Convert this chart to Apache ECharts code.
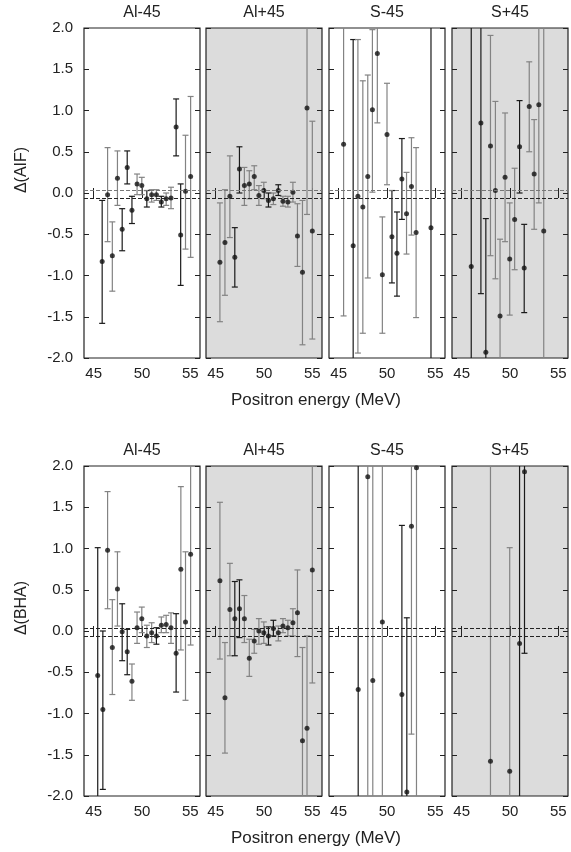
<!DOCTYPE html>
<html>
<head>
<meta charset="utf-8">
<script src="https://cdn.jsdelivr.net/npm/echarts@6/dist/echarts.min.js"></script>
<style>
html,body{margin:0;padding:0;background:#fff}
#chart{width:571px;height:852px}
</style>
</head>
<body>
<div id="chart"></div>
<script>
// column titles, row names, x ticks, reference (dashed) lines
const panelTitles = ['Al-45', 'Al+45', 'S-45', 'S+45'];
const rowNames = ['Δ(AIF)', 'Δ(BHA)'];
const xTicks = [45, 50, 55];
const refLines = [0.025, -0.055];

// grp: 'k' = dark set, 'g' = grey set
// --- Δ(AIF), Al-45
const aifAlmX = [45.88, 46.44, 46.93, 47.46, 47.95, 48.47, 48.96, 49.49, 49.98, 50.5, 51.0, 51.49, 52.0, 52.5, 53.0, 53.53, 54.0, 54.5, 55.03];
const aifAlmY = [-0.83, -0.02, -0.76, 0.18, -0.44, 0.31, -0.21, 0.11, 0.09, -0.07, -0.02, -0.02, -0.11, -0.07, -0.06, 0.80, -0.51, 0.02, 0.20];
const aifAlmHi = [-0.09, 0.55, -0.35, 0.51, -0.19, 0.51, -0.04, 0.23, 0.19, 0.03, 0.04, 0.04, -0.04, 0.00, 0.07, 1.14, 0.11, 0.70, 1.17];
const aifAlmLo = [-1.58, -0.59, -1.19, -0.15, -0.70, 0.11, -0.37, -0.02, -0.02, -0.17, -0.11, -0.09, -0.17, -0.15, -0.19, 0.45, -1.12, -0.68, -0.78];
const aifAlmGrp = ['k','g','g','g','k','k','k','g','g','k','g','g','k','g','g','k','k','g','g'];

// --- Δ(AIF), Al+45
const aifAlpX = [45.44, 45.96, 46.47, 46.98, 47.46, 47.97, 48.48, 48.99, 49.47, 49.98, 50.46, 50.97, 51.48, 51.96, 52.47, 52.99, 53.46, 53.98, 54.45, 55.0];
const aifAlpY = [-0.84, -0.60, -0.04, -0.78, 0.29, 0.09, 0.11, 0.20, -0.03, 0.03, -0.09, -0.07, 0.03, -0.10, -0.11, 0.01, -0.52, -0.96, 1.03, -0.46];
const aifAlpHi = [-0.12, 0.04, 0.45, -0.42, 0.56, 0.31, 0.27, 0.33, 0.09, 0.13, 0.00, 0.00, 0.10, -0.04, -0.04, 0.13, -0.13, -0.09, 2.6, 0.87];
const aifAlpLo = [-1.56, -1.24, -0.54, -1.14, 0.00, -0.15, -0.07, 0.04, -0.15, -0.07, -0.17, -0.14, -0.03, -0.16, -0.17, -0.11, -0.89, -1.84, -0.26, -1.77];
const aifAlpGrp = ['g','g','g','k','k','g','g','g','g','g','k','g','k','g','g','g','g','g','g','g'];

// --- Δ(AIF), S-45
const aifSmX = [45.51, 46.5, 46.99, 47.5, 48.01, 48.49, 49.0, 49.52, 50.0, 50.51, 51.03, 51.54, 52.02, 52.53, 53.01, 54.55];
const aifSmY = [0.59, -0.64, -0.04, -0.17, 0.20, 1.01, 1.69, -0.99, 0.71, -0.53, -0.73, 0.17, -0.25, 0.08, -0.48, -0.42];
const aifSmHi = [2.8, 1.86, 1.86, 1.36, 1.43, 1.98, 2.6, -0.29, 1.33, 0.03, -0.23, 0.66, 0.25, 0.67, 0.55, 2.9];
const aifSmLo = [-1.49, -2.9, -1.94, -1.70, -1.03, 0.01, 0.85, -1.70, 0.10, -1.09, -1.25, -0.32, -0.74, -0.51, -1.51, -3.7];
const aifSmGrp = ['g','k','g','g','g','g','g','g','g','k','k','k','g','g','g','k'];

// --- Δ(AIF), S+45
const aifSpX = [45.99, 46.99, 47.5, 47.98, 48.49, 48.97, 49.49, 49.97, 50.48, 50.99, 51.47, 51.99, 52.5, 52.98, 53.49];
const aifSpY = [-0.89, 0.85, -1.93, 0.57, 0.03, -1.49, 0.19, -0.80, -0.32, 0.56, -0.91, 1.05, 0.23, 1.07, -0.46];
const aifSpHi = [2.7, 2.9, -0.31, 1.91, 1.11, -0.56, 0.97, -0.12, 0.30, 1.12, -0.38, 1.59, 0.89, 2.5, 2.8];
const aifSpLo = [-3.5, -1.22, -2.8, -0.76, -1.04, -2.6, -0.59, -1.48, -0.93, 0.00, -1.45, 0.50, -0.44, -0.12, -3.1];
const aifSpGrp = ['k','k','k','g','g','g','g','g','g','k','k','g','g','g','g'];

// --- Δ(BHA), Al-45
const bhaAlmX = [45.42, 45.95, 46.44, 46.93, 47.46, 47.95, 48.47, 48.96, 49.49, 49.98, 50.5, 51.0, 51.49, 52.0, 52.5, 53.0, 53.53, 54.02, 54.5, 55.03];
const bhaAlmY = [-0.54, -0.95, 0.98, -0.20, 0.51, -0.01, -0.25, -0.61, 0.04, 0.15, -0.06, -0.02, -0.06, 0.07, 0.08, 0.04, -0.27, 0.75, 0.11, 0.93];
const bhaAlmHi = [1.01, 0.00, 1.69, 0.38, 0.96, 0.33, 0.02, -0.40, 0.23, 0.29, 0.07, 0.10, 0.04, 0.17, 0.19, 0.22, 0.21, 1.75, 0.96, 2.6];
const bhaAlmLo = [-2.7, -1.92, 0.27, -0.77, 0.06, -0.36, -0.53, -0.84, -0.15, -0.02, -0.20, -0.14, -0.16, -0.02, -0.02, -0.15, -0.74, -0.23, -0.84, -0.17];
const bhaAlmGrp = ['k','k','g','g','g','k','k','g','g','g','g','g','k','g','g','g','k','g','g','g'];

// --- Δ(BHA), Al+45
const bhaAlpX = [45.44, 45.96, 46.47, 46.98, 47.46, 47.97, 48.48, 48.99, 49.47, 49.98, 50.46, 50.97, 51.48, 51.96, 52.47, 52.99, 53.46, 53.98, 54.45, 55.0];
const bhaAlpY = [0.61, -0.81, 0.26, 0.15, 0.27, 0.15, -0.33, -0.12, 0.00, -0.02, -0.06, 0.03, -0.02, 0.06, 0.04, 0.10, 0.22, -1.33, -1.18, 0.74];
const bhaAlpHi = [1.56, -0.14, 0.82, 0.60, 0.62, 0.43, -0.10, 0.02, 0.15, 0.11, 0.05, 0.13, 0.06, 0.15, 0.13, 0.27, 0.74, -0.20, -0.06, 2.7];
const bhaAlpLo = [-0.34, -1.48, -0.30, -0.30, -0.08, -0.14, -0.55, -0.27, -0.16, -0.15, -0.17, -0.06, -0.12, -0.02, -0.06, -0.06, -0.31, -2.6, -2.5, -0.63];
const bhaAlpGrp = ['g','g','g','k','k','g','g','g','g','g','k','k','g','g','g','g','g','g','g','g'];

// --- Δ(BHA), S-45
const bhaSmX = [47.02, 48.01, 48.53, 49.52, 51.54, 52.05, 52.53, 53.05];
const bhaSmY = [-0.71, 1.87, -0.60, 0.11, -0.77, -1.95, 1.27, 1.98];
const bhaSmHi = [2.8, 3.4, 2.9, 3.1, 1.28, 0.16, 2.7, 3.2];
const bhaSmLo = [-3.2, -2.9, -3.3, -2.8, -2.7, -2.6, -1.25, -2.4];
const bhaSmGrp = ['k','g','g','g','k','k','g','g'];

// --- Δ(BHA), S+45
const bhaSpX = [47.98, 49.97, 50.99, 51.5];
const bhaSpY = [-1.58, -1.70, -0.15, 1.93];
const bhaSpHi = [3.2, 1.01, 3.0, 2.8];
const bhaSpLo = [-3.1, -2.7, -3.4, -0.27];
const bhaSpGrp = ['g','g','k','k'];

const panels = [
    [aifAlmX, aifAlmY, aifAlmLo, aifAlmHi, aifAlmGrp],
    [aifAlpX, aifAlpY, aifAlpLo, aifAlpHi, aifAlpGrp],
    [aifSmX, aifSmY, aifSmLo, aifSmHi, aifSmGrp],
    [aifSpX, aifSpY, aifSpLo, aifSpHi, aifSpGrp],
    [bhaAlmX, bhaAlmY, bhaAlmLo, bhaAlmHi, bhaAlmGrp],
    [bhaAlpX, bhaAlpY, bhaAlpLo, bhaAlpHi, bhaAlpGrp],
    [bhaSmX, bhaSmY, bhaSmLo, bhaSmHi, bhaSmGrp],
    [bhaSpX, bhaSpY, bhaSpLo, bhaSpHi, bhaSpGrp]
];

const FONT = '"Liberation Sans", Arial, sans-serif';
const TXT = '#222';
const lefts = [84, 206, 329, 452];
const panelW = 116;
const tops = [28, 466];
const panelH = 330;
const YMIN = -2, YMAX = 2;

let grids = [], xAxes = [], yAxes = [], series = [], graphics = [];

function renderBars(params, api) {
    let xv = api.value(0), lo = api.value(1), hi = api.value(2), g = api.value(3);
    let color = g ? '#838383' : '#1a1a1a';
    let a = api.coord([xv, Math.min(hi, YMAX)]);
    let b = api.coord([xv, Math.max(lo, YMIN)]);
    let kids = [{
        type: 'line',
        shape: {x1: a[0], y1: a[1], x2: b[0], y2: b[1]},
        style: {stroke: color, lineWidth: 1.2}
    }];
    if (hi <= YMAX) kids.push({type: 'line', shape: {x1: a[0] - 3, y1: a[1], x2: a[0] + 3, y2: a[1]}, style: {stroke: color, lineWidth: 1.2}});
    if (lo >= YMIN) kids.push({type: 'line', shape: {x1: b[0] - 3, y1: b[1], x2: b[0] + 3, y2: b[1]}, style: {stroke: color, lineWidth: 1.2}});
    return {type: 'group', children: kids};
}

for (let r = 0; r < 2; r++) {
    for (let c = 0; c < 4; c++) {
        let k = r * 4 + c;
        grids.push({
            left: lefts[c], top: tops[r], width: panelW, height: panelH,
            show: true, borderColor: '#222', borderWidth: 1.2,
            backgroundColor: c % 2 == 1 ? '#dcdcdc' : '#fff'
        });
        // bottom x axis with labels, top x axis with ticks only
        for (let pos of ['bottom', 'top']) {
            xAxes.push({
                type: 'value', gridIndex: k, position: pos, min: 44, max: 56,
                axisLine: {show: false}, splitLine: {show: false},
                axisTick: {inside: true, length: 5, customValues: xTicks, lineStyle: {color: '#222'}},
                axisLabel: {show: pos == 'bottom', customValues: xTicks, margin: 8,
                    fontFamily: FONT, fontSize: 15, color: TXT}
            });
        }
        for (let pos of ['left', 'right']) {
            yAxes.push({
                type: 'value', gridIndex: k, position: pos, min: YMIN, max: YMAX, interval: 0.5,
                axisLine: {show: false}, splitLine: {show: false},
                axisTick: {inside: true, length: 5, lineStyle: {color: '#222'}},
                axisLabel: {show: pos == 'left' && c == 0, margin: 11,
                    formatter: v => v.toFixed(1), fontFamily: FONT, fontSize: 15, color: TXT}
            });
        }
        let [xs, ys, los, his, grp] = panels[k];
        series.push({
            type: 'custom', xAxisIndex: k * 2, yAxisIndex: k * 2, clip: true, z: 2,
            renderItem: renderBars,
            encode: {x: 0, y: [1, 2]},
            data: xs.map((x, i) => [x, los[i], his[i], grp[i] == 'g' ? 1 : 0])
        });
        series.push({
            type: 'scatter', xAxisIndex: k * 2, yAxisIndex: k * 2, z: 3,
            symbolSize: 5, itemStyle: {color: '#111'}, silent: true,
            data: xs.map((x, i) => [x, ys[i]]),
            markLine: {
                silent: true, symbol: ['none', 'none'], label: {show: false},
                lineStyle: {type: [4, 2], width: 1, color: '#222'},
                data: [
                    {yAxis: refLines[0], lineStyle: {color: r == 0 ? '#777' : '#222'}},
                    {yAxis: refLines[1]}
                ]
            }
        });
        graphics.push({
            type: 'text', x: lefts[c] + panelW / 2, y: tops[r] - 15,
            style: {text: panelTitles[c], align: 'center', verticalAlign: 'middle',
                font: '16px ' + FONT, fill: TXT}
        });
    }
    graphics.push({
        type: 'text', x: 316, y: tops[r] + panelH + 42,
        style: {text: 'Positron energy (MeV)', align: 'center', verticalAlign: 'middle',
            font: '17px ' + FONT, fill: TXT}
    });
    graphics.push({
        type: 'text', x: 22, y: tops[r] + 142, rotation: Math.PI / 2,
        style: {text: rowNames[r], align: 'center', verticalAlign: 'middle',
            font: '16px ' + FONT, fill: TXT}
    });
}

let chart = echarts.init(document.getElementById('chart'));
chart.setOption({
    animation: false,
    backgroundColor: '#fff',
    grid: grids,
    xAxis: xAxes,
    yAxis: yAxes,
    series: series,
    graphic: graphics
});
</script>
</body>
</html>
